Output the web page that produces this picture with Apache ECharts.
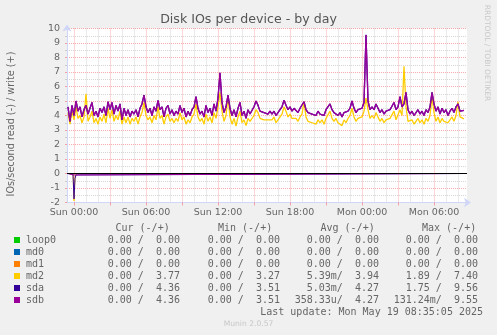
<!DOCTYPE html>
<html><head><meta charset="utf-8">
<script src="https://cdn.jsdelivr.net/npm/echarts@6/dist/echarts.min.js"></script>
<style>html,body{margin:0;padding:0;background:#f0f0f0;}#c{width:497px;height:335px;}</style>
</head><body><div id="c"></div>
<script>
// ---------- data ----------
const chartTitle = 'Disk IOs per device - by day';
const yAxisTitle = 'IOs/second read (-) / write (+)';
const watermark = 'RRDTOOL / TOBI OETIKER';
const lastUpdate = 'Last update: Mon May 19 08:35:05 2025';
const footer = 'Munin 2.0.57';

// x axis in hours since Sun 00:00
const xMin = -35 / 60;         // Sat 23:25
const xMax = 32.75;            // Mon 08:45
const xLabelHours = [0, 6, 12, 18, 24, 30];
const xLabelTexts = ['Sun 00:00', 'Sun 06:00', 'Sun 12:00', 'Sun 18:00', 'Mon 00:00', 'Mon 06:00'];
const xMajorHours = [0, 3, 6, 9, 12, 15, 18, 21, 24, 27, 30];
const xMinorHours = [1, 2, 4, 5, 7, 8, 10, 11, 13, 14, 16, 17, 19, 20, 22, 23, 25, 26, 28, 29, 31, 32];
const yMin = -2, yMax = 10, yStep = 1;

// write samples every 10 minutes, from Sat 23:30
const sampleStart = -0.5;
const sampleStep = 1 / 6;

const devices = ['loop0', 'md0', 'md1', 'md2', 'sda', 'sdb'];
const deviceColors = ['#00CC00', '#0066B3', '#FF8000', '#FFCC00', '#330099', '#990099'];

const sdbWrite = [
  4.6, 3.6, 4.7, 4.0, 5.0, 4.3, 4.6, 3.9, 4.4, 4.7,
  4.1, 4.5, 4.9, 4.0, 4.3, 3.9, 4.5, 4.2, 4.6, 4.0,
  4.95, 4.4, 4.9, 4.1, 4.7, 4.3, 4.8, 3.7, 4.5, 4.0,
  4.4, 3.9, 4.3, 4.1, 4.4, 3.9, 4.5, 4.8, 5.4, 4.6,
  4.2, 4.5, 4.0, 4.6, 4.3, 5.05, 4.4, 4.6, 3.9, 4.5,
  4.7, 4.1, 4.4, 4.0, 4.3, 4.1, 4.7, 4.2, 4.5, 3.9,
  4.3, 4.0, 4.4, 4.6, 5.3, 4.5, 4.1, 4.3, 3.9, 4.7,
  4.2, 4.5, 4.0, 4.8, 4.3, 5.2, 6.95, 4.9, 4.2, 4.6,
  5.4, 4.5, 4.0, 4.4, 3.9, 4.5, 4.9, 4.0, 4.3, 3.8,
  4.4, 4.1, 4.2, 4.6, 5.0, 4.7, 4.3, 4.4, 4.2, 4.3,
  4.1, 4.3, 4.1, 4.3, 4.0, 4.2, 4.4, 4.6, 5.05, 4.7,
  4.4, 4.6, 4.3, 4.5, 4.4, 4.2, 4.5, 4.6, 4.95, 4.4,
  4.2, 4.3, 4.1, 4.2, 4.0, 4.3, 4.1, 4.2, 4.0, 4.4,
  4.5, 4.8, 4.4, 4.2, 4.3, 4.0, 4.2, 3.9, 4.2, 4.1,
  4.3, 4.5, 5.0, 4.5, 4.2, 4.4, 4.3, 4.5, 4.9, 9.55,
  5.0, 4.4, 4.6, 4.4, 4.8, 4.5, 4.2, 4.4, 4.1, 4.3,
  4.2, 4.4, 4.3, 4.9, 4.4, 4.6, 5.3, 4.6, 4.8, 5.6,
  4.4, 4.1, 4.3, 4.0, 4.2, 4.4, 4.1, 4.3, 4.0, 4.4,
  4.2, 4.6, 5.6, 4.8, 4.3, 4.6, 4.1, 4.5, 4.2, 4.4,
  4.0, 4.3, 4.5, 4.2, 4.6, 4.8, 4.3, 4.2, 4.36
];
// sda overlaps sdb almost exactly (same avg/max), drawn beneath it
const sdaWrite = [
  4.6, 3.6, 4.7, 4.0, 5.0, 4.3, 4.6, 3.9, 4.4, 4.7,
  4.1, 4.5, 4.9, 4.0, 4.3, 3.9, 4.5, 4.2, 4.6, 4.0,
  4.95, 4.4, 4.9, 4.1, 4.7, 4.3, 4.8, 3.7, 4.5, 4.0,
  4.4, 3.9, 4.3, 4.1, 4.4, 3.9, 4.5, 4.8, 5.4, 4.6,
  4.2, 4.5, 4.0, 4.6, 4.3, 5.05, 4.4, 4.6, 3.9, 4.5,
  4.7, 4.1, 4.4, 4.0, 4.3, 4.1, 4.7, 4.2, 4.5, 3.9,
  4.3, 4.0, 4.4, 4.6, 5.3, 4.5, 4.1, 4.3, 3.9, 4.7,
  4.2, 4.5, 4.0, 4.8, 4.3, 5.2, 6.95, 4.9, 4.2, 4.6,
  5.4, 4.5, 4.0, 4.4, 3.9, 4.5, 4.9, 4.0, 4.3, 3.8,
  4.4, 4.1, 4.2, 4.6, 5.0, 4.7, 4.3, 4.4, 4.2, 4.3,
  4.1, 4.3, 4.1, 4.3, 4.0, 4.2, 4.4, 4.6, 5.05, 4.7,
  4.4, 4.6, 4.3, 4.5, 4.4, 4.2, 4.5, 4.6, 4.95, 4.4,
  4.2, 4.3, 4.1, 4.2, 4.0, 4.3, 4.1, 4.2, 4.0, 4.4,
  4.5, 4.8, 4.4, 4.2, 4.3, 4.0, 4.2, 3.9, 4.2, 4.1,
  4.3, 4.5, 5.0, 4.5, 4.2, 4.4, 4.3, 4.5, 4.9, 9.56,
  5.0, 4.4, 4.6, 4.4, 4.8, 4.5, 4.2, 4.4, 4.1, 4.3,
  4.2, 4.4, 4.3, 4.9, 4.4, 4.6, 5.3, 4.6, 4.8, 5.6,
  4.4, 4.1, 4.3, 4.0, 4.2, 4.4, 4.1, 4.3, 4.0, 4.4,
  4.2, 4.6, 5.6, 4.8, 4.3, 4.6, 4.1, 4.5, 4.2, 4.4,
  4.0, 4.3, 4.5, 4.2, 4.6, 4.8, 4.3, 4.2, 4.36
];
const md2Write = [
  4.2, 3.4, 4.3, 3.7, 4.6, 3.8, 4.0, 3.5, 3.9, 5.5,
  3.6, 3.9, 4.3, 3.5, 3.8, 3.4, 3.9, 3.6, 4.1, 3.5,
  4.5, 3.8, 4.4, 3.6, 4.0, 3.7, 4.3, 3.4, 3.9, 3.5,
  3.9, 3.4, 3.8, 3.6, 3.9, 3.4, 3.9, 4.2, 4.9, 4.0,
  3.7, 3.9, 3.5, 4.0, 3.7, 4.6, 3.8, 4.0, 3.4, 3.9,
  4.1, 3.6, 3.8, 3.5, 3.8, 3.6, 4.2, 3.7, 3.9, 3.4,
  3.7, 3.5, 3.9, 4.1, 4.8, 3.9, 3.6, 3.8, 3.4, 4.1,
  3.6, 3.9, 3.5, 4.2, 3.8, 4.6, 5.6, 4.3, 3.6, 4.0,
  5.3, 3.9, 3.4, 3.8, 3.27, 3.9, 4.3, 3.5, 3.7, 3.3,
  3.8, 3.6, 3.7, 4.0, 4.4, 4.2, 3.8, 3.9, 3.7, 3.8,
  3.7, 3.8, 3.7, 3.9, 3.5, 3.7, 3.9, 4.1, 4.6, 4.3,
  3.9, 4.1, 3.8, 3.9, 3.8, 3.6, 3.9, 4.1, 4.95, 3.9,
  3.6, 3.7, 3.5, 3.6, 3.4, 3.7, 3.5, 3.7, 3.4, 3.8,
  3.9, 4.3, 3.8, 3.6, 3.8, 3.5, 3.6, 3.3, 3.7, 3.5,
  3.8, 4.0, 4.5, 3.9, 3.6, 3.8, 3.7, 3.9, 4.3, 5.2,
  4.4, 3.8, 4.0, 3.8, 4.2, 3.9, 3.6, 3.8, 3.5, 3.7,
  3.6, 3.8, 3.7, 4.3, 3.7, 3.6, 4.4, 4.0, 7.4, 4.6,
  3.6, 3.5, 3.7, 3.4, 3.6, 3.8, 3.5, 3.7, 3.4, 3.8,
  3.6, 4.0, 5.3, 4.2, 3.6, 3.9, 3.5, 3.8, 3.6, 3.7,
  3.5, 3.6, 3.9, 3.6, 4.0, 4.95, 3.9, 3.8, 3.77
];
// idle devices: flat zero over the whole period
const flatHours = [-0.5, 32.5];
const loop0Read = [0, 0], loop0Write = [0, 0];
const md0Read = [0, 0], md0Write = [0, 0];
const md1Read = [0, 0], md1Write = [0, 0];
// reads (shown negative): only one burst around Sun 00:00
const readHours = [-0.5, -0.0833, 0, 0.0833, 0.1667, 0.25, 32.5];
const md2Read = [0, 0, -1.89, -0.3, 0, 0, 0];
const sdaRead = [0, -0.05, -1.75, -0.35, -0.1, 0, 0];
const sdbRead = [0, -0.1, -0.13, -0.12, -0.1, 0, 0];
const zeroLineHours = [xMin, xMax];
const zeroLineValues = [0, 0];

// legend statistics (read / write)
const curRead = ['0.00', '0.00', '0.00', '0.00', '0.00', '0.00'];
const curWrite = ['0.00', '0.00', '0.00', '3.77', '4.36', '4.36'];
const minRead = ['0.00', '0.00', '0.00', '0.00', '0.00', '0.00'];
const minWrite = ['0.00', '0.00', '0.00', '3.27', '3.51', '3.51'];
const avgRead = ['0.00', '0.00', '0.00', '5.39m', '5.03m', '358.33u'];
const avgWrite = ['0.00', '0.00', '0.00', '3.94', '4.27', '4.27'];
const maxRead = ['0.00', '0.00', '0.00', '1.89', '1.75', '131.24m'];
const maxWrite = ['0.00', '0.00', '0.00', '7.40', '9.56', '9.55'];
const statHeaders = ['Cur (-/+)', 'Min (-/+)', 'Avg (-/+)', 'Max (-/+)'];

// ---------- build ----------
const SANS = 'DejaVu Sans';
const MONO = 'DejaVu Sans Mono';
const FONT_COLOR = '#666666';
const AXIS_COLOR = '#CFD6F8';
const MGRID = 'rgba(255,0,0,0.33)';
const GRID = 'rgba(130,130,130,0.33)';

function sampled(vals) { return vals.map((v, i) => [sampleStart + i * sampleStep, v]); }
function zipped(xs, ys) { return ys.map((v, i) => [xs[i], v]); }

const readData = [
  zipped(flatHours, loop0Read), zipped(flatHours, md0Read), zipped(flatHours, md1Read),
  zipped(readHours, md2Read), zipped(readHours, sdaRead), zipped(readHours, sdbRead)
];
const writeData = [
  zipped(flatHours, loop0Write), zipped(flatHours, md0Write), zipped(flatHours, md1Write),
  sampled(md2Write), sampled(sdaWrite), sampled(sdbWrite)
];

const series = [];
devices.forEach((d, k) => {
  [readData[k], writeData[k]].forEach((data, j) => {
    series.push({
      name: d + (j ? '-write' : '-read'), type: 'line', data: data,
      showSymbol: false, symbol: 'none', silent: true, animation: false,
      lineStyle: { color: deviceColors[k], width: (k >= 3 && j === 1) ? 1.3 : 1 }, itemStyle: { color: deviceColors[k] }
    });
  });
});
series.push({
  name: 'zero', type: 'line', data: zipped(zeroLineHours, zeroLineValues),
  showSymbol: false, symbol: 'none', silent: true, animation: false, z: 5,
  lineStyle: { color: '#000000', width: 1 }
});

function fmtVal(s) {
  const m = s.match(/^([\d.]+)([a-zA-Z]?)$/);
  return m[1].padStart(6, ' ') + (m[2] || ' ');
}
const cols = [[curRead, curWrite], [minRead, minWrite], [avgRead, avgWrite], [maxRead, maxWrite]];
const colRight = [180, 280, 379, 478];
const headerLeft = [115.5, 218, 320.5, 422];
const rowY0 = 240, rowDY = 12;

const graphics = [];
graphics.push({ type: 'text', x: 248.5, y: 19.5, style: { text: chartTitle, font: '12.6px "' + SANS + '"', fill: '#555555', textAlign: 'center', textVerticalAlign: 'middle' } });
graphics.push({ type: 'text', x: 11, y: 124, rotation: Math.PI / 2, style: { text: yAxisTitle, font: '9.7px "' + SANS + '"', fill: FONT_COLOR, textAlign: 'center', textVerticalAlign: 'middle' } });
graphics.push({ type: 'text', x: 487, y: 53, rotation: -Math.PI / 2, style: { text: watermark, font: '7.5px "' + SANS + '"', fill: '#C8C8C8', textAlign: 'center', textVerticalAlign: 'middle' } });
statHeaders.forEach((h, c) => {
  graphics.push({ type: 'text', x: headerLeft[c], y: 228, style: { text: h, font: '10px "' + MONO + '"', fill: FONT_COLOR, textAlign: 'left', textVerticalAlign: 'middle' } });
});
devices.forEach((d, k) => {
  const y = rowY0 + k * rowDY;
  graphics.push({ type: 'rect', shape: { x: 14, y: y - 3, width: 6, height: 6 }, style: { fill: deviceColors[k] } });
  graphics.push({ type: 'text', x: 26, y: y, style: { text: d, font: '10px "' + MONO + '"', fill: FONT_COLOR, textAlign: 'left', textVerticalAlign: 'middle' } });
  cols.forEach((pair, c) => {
    const txt = fmtVal(pair[0][k]) + '/' + fmtVal(pair[1][k]).trimEnd();
    graphics.push({ type: 'text', x: colRight[c], y: y, style: { text: txt, font: '10px "' + MONO + '"', fill: FONT_COLOR, textAlign: 'right', textVerticalAlign: 'middle' } });
  });
});
graphics.push({ type: 'text', x: 483, y: 312, style: { text: lastUpdate, font: '10px "' + MONO + '"', fill: FONT_COLOR, textAlign: 'right', textVerticalAlign: 'middle' } });
graphics.push({ type: 'text', x: 248.5, y: 324, style: { text: footer, font: '7.6px "' + SANS + '"', fill: '#C8C8C8', textAlign: 'center', textVerticalAlign: 'middle' } });

const chart = echarts.init(document.getElementById('c'), null, { renderer: 'canvas', width: 497, height: 335 });
chart.setOption({
  backgroundColor: '#F0F0F0',
  animation: false,
  grid: { left: 67, top: 28.5, width: 400, height: 174, show: true, backgroundColor: '#FFFFFF', borderWidth: 0 },
  xAxis: [
    {
      type: 'value', min: xMin, max: xMax, position: 'bottom',
      axisLine: { show: true, onZero: false, lineStyle: { color: AXIS_COLOR, width: 1 }, symbol: ['none', 'arrow'], symbolSize: [7, 7], symbolOffset: [0, 4] },
      axisTick: { show: true, customValues: xMajorHours, length: 3, lineStyle: { color: MGRID } },
      axisLabel: { customValues: xLabelHours, formatter: v => xLabelTexts[xLabelHours.indexOf(v)], fontFamily: SANS, fontSize: 9.5, color: FONT_COLOR, margin: 5 },
      splitLine: { show: true, lineStyle: { color: MGRID, width: 1, type: [1, 1] } }
    },
    {
      type: 'value', min: xMin, max: xMax, position: 'top',
      axisLine: { show: false }, axisLabel: { show: false },
      axisTick: { show: false, customValues: xMinorHours },
      splitLine: { show: true, lineStyle: { color: GRID, width: 1, type: [1, 1] } }
    }
  ],
  yAxis: {
    type: 'value', min: yMin, max: yMax, interval: yStep,
    axisLine: { show: true, onZero: false, lineStyle: { color: AXIS_COLOR, width: 1 }, symbol: ['none', 'arrow'], symbolSize: [7, 7], symbolOffset: [0, 4] },
    axisTick: { show: true, length: 2, lineStyle: { color: MGRID } },
    minorTick: { show: true, splitNumber: 2, length: 2, lineStyle: { color: GRID } },
    axisLabel: { fontFamily: SANS, fontSize: 9.5, color: FONT_COLOR, margin: 7 },
    splitLine: { show: true, lineStyle: { color: MGRID, width: 1, type: [1, 1] } },
    minorSplitLine: { show: true, lineStyle: { color: GRID, width: 1, type: [1, 1] } }
  },
  series: series,
  graphic: graphics
});
</script></body></html>
